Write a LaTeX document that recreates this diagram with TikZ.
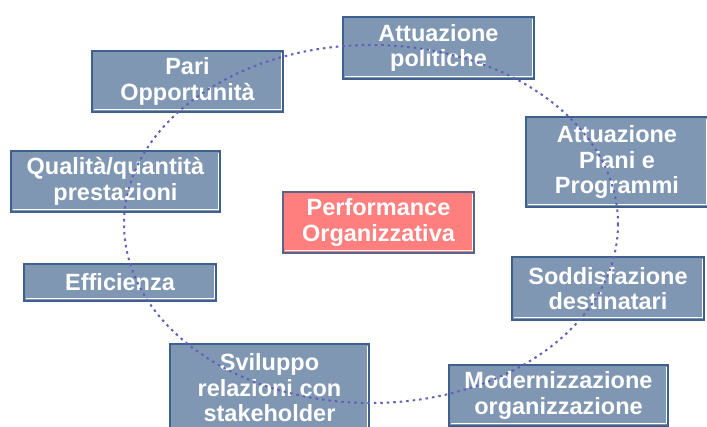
\documentclass[tikz,border=0pt]{standalone}
\usepackage{fontspec}
\setmainfont{Liberation Sans}
\definecolor{boxfill}{HTML}{7F97B2}
\definecolor{boxline}{HTML}{3F5F8C}
\definecolor{perffill}{HTML}{FF7F7F}
\definecolor{perfline}{HTML}{5C6485}
\definecolor{ringcol}{HTML}{6060BA}

\begin{document}
\begin{tikzpicture}[x=1pt,y=-1pt,
	box/.style={draw=boxline,fill=boxfill,line width=2pt,inner sep=0pt,align=center,
		text=white,font=\fontsize{23.5}{25.5}\selectfont\bfseries},
	ring/.style={ringcol,line width=2pt,dash pattern=on 2.5pt off 4pt}]
	\useasboundingbox (0,0) rectangle (707,427);
	
	\foreach \n/\x/\y/\w/\h/\t in {
		pari/187.5/81.5/191/61/{Pari\\Opportunità},
		polit/438.5/48/191/62/{Attuazione\\politiche},
		piani/617/162/182/90/{Attuazione\\Piani e\\Programmi},
		qual/115.5/181.5/209/61/{Qualità/quantità\\prestazioni},
		eff/120/282.5/192/37/{Efficienza},
		sodd/608/288.5/192/63/{Soddisfazione\\destinatari},
		svil/269.5/388/199/88/{Sviluppo\\relazioni con\\stakeholder},
		modern/558.5/395.5/219/61/{Modernizzazione\\organizzazione}}{
		\node (\n) [box,minimum width=\w,minimum height=\h] at (\x,\y) {\t};
	}
	
	\node (perf) [box,draw=perfline,fill=perffill,minimum width=191,minimum height=61] at (378.5,222.5) {Performance\\Organizzativa};
	
	\foreach \n in {pari,polit,piani,qual,eff,sodd,svil,modern,perf}
	\draw [white,line width=1pt] ([shift={(-3pt,-3pt)}]\n.north east) -- ([shift={(-3pt,3pt)}]\n.south east) -- ([shift={(3pt,3pt)}]\n.south west);
	
	\coordinate (centre) at (371,224);
	\draw [ring] (centre) ellipse [x radius=247, y radius=179];
\end{tikzpicture}
\end{document}
